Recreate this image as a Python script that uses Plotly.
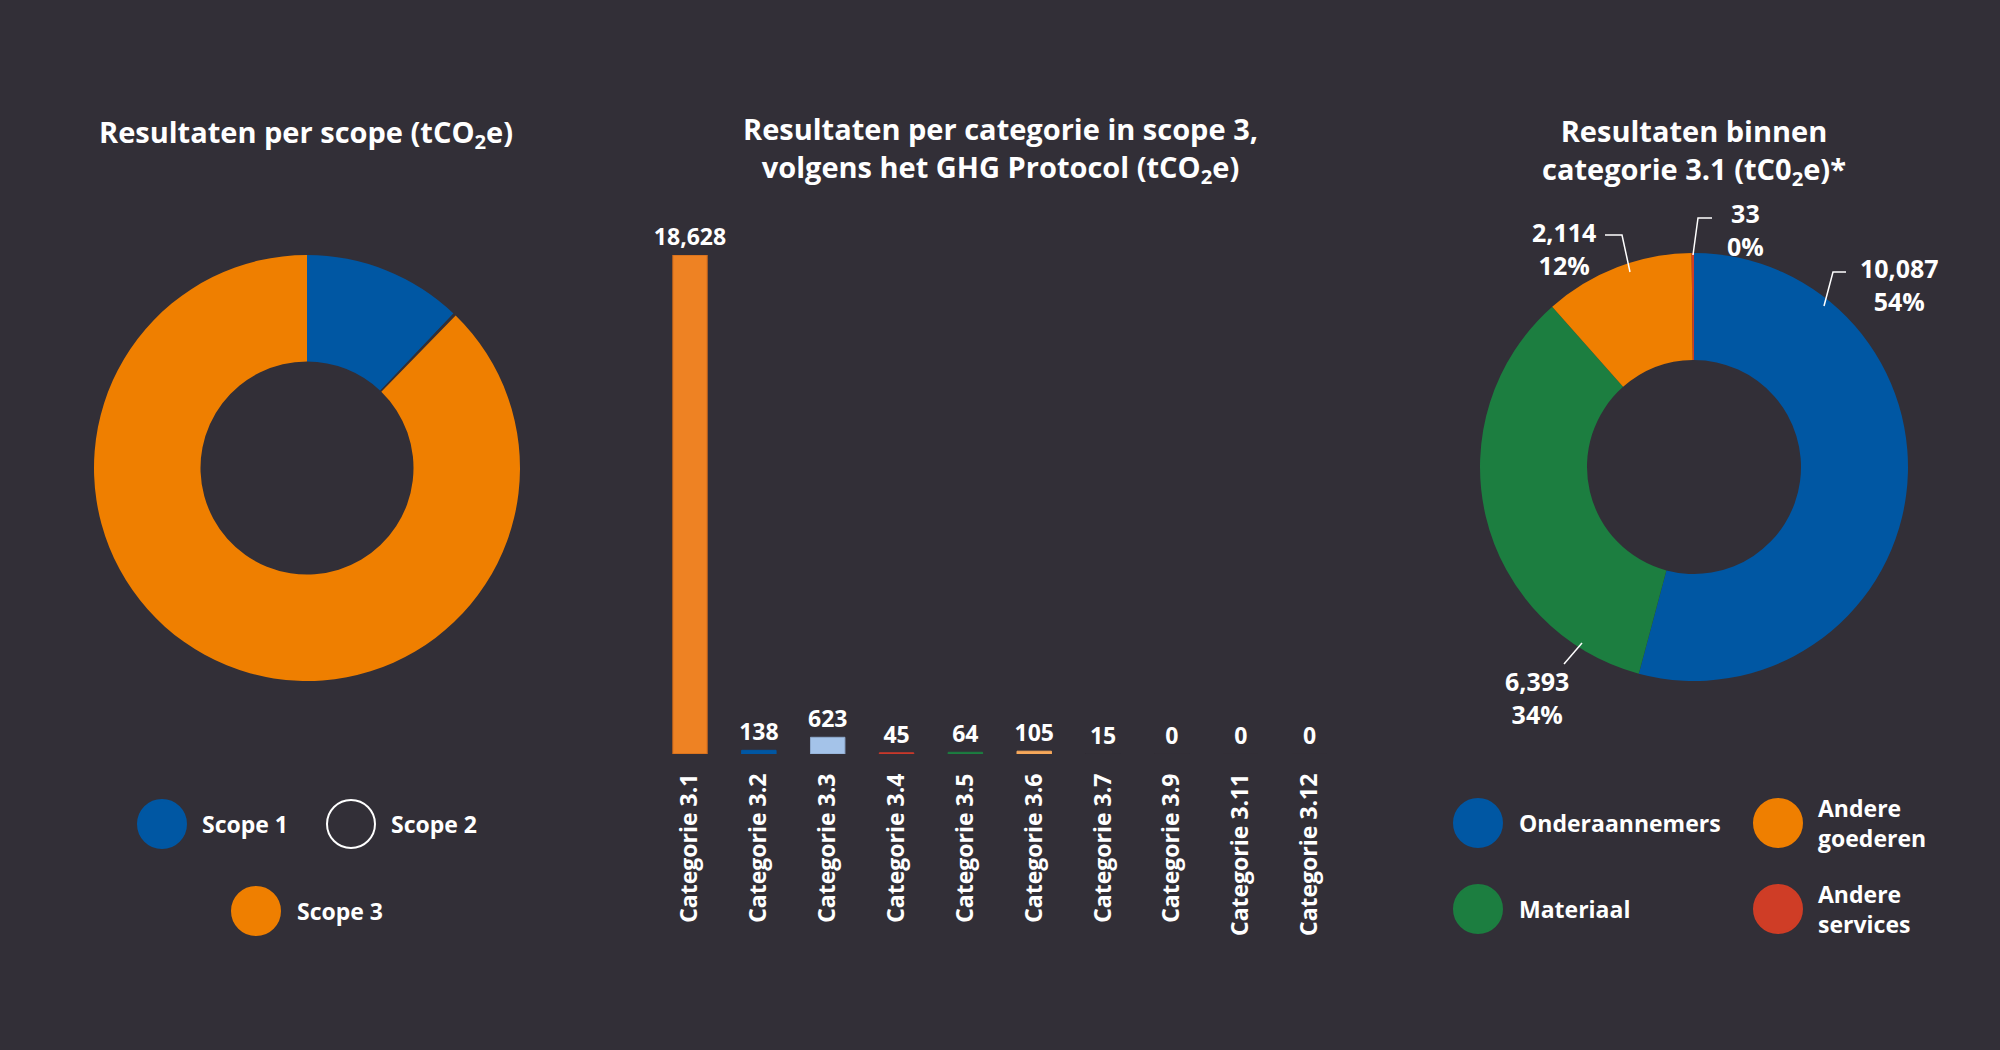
import plotly.graph_objects as go

# ---------------- data ----------------
scope_labels = ["Scope 1", "Scope 2", "Scope 3"]
scope_values = [2700, 50, 19618]

cat_labels = ["Categorie 3.1", "Categorie 3.2", "Categorie 3.3", "Categorie 3.4", "Categorie 3.5",
              "Categorie 3.6", "Categorie 3.7", "Categorie 3.9", "Categorie 3.11", "Categorie 3.12"]
cat_values = [18628, 138, 623, 45, 64, 105, 15, 0, 0, 0]

sub_labels = ["Onderaannemers", "Materiaal", "Andere goederen", "Andere services"]
sub_values = [10087, 6393, 2114, 33]
sub_percent = [54, 34, 12, 0]

# ---------------- style ----------------
W, H = 2000, 1050
BG = "#322F37"
FONT = "Open Sans"
scope_colors = ["#0057A3", BG, "#EF7F00"]
bar_colors = ["#EE8223", "#0057A3", "#A4C3E9", "#C9392B", "#1C7E40", "#F7A85B",
              BG, BG, BG, BG]
bar_line_colors = ["#C8661B", "#0057A3", "#8EA9CC", "#C9392B", "#1C7E40", "#F7A85B",
                   BG, BG, BG, BG]
sub_colors = ["#0057A3", "#1C7E40", "#EF7F00", "#CF3D26"]


def px(x, y):
    return x / W, 1 - y / H


def box(cx, cy, r):
    return [(cx - r) / W, (cx + r) / W], [1 - (cy + r) / H, 1 - (cy - r) / H]


fig = go.Figure()

# left donut
dx, dy = box(307, 468, 213)
fig.add_trace(go.Pie(labels=scope_labels, values=scope_values, hole=0.5, sort=False,
                     direction="clockwise", rotation=0,
                     marker=dict(colors=scope_colors, line=dict(width=0)),
                     textinfo="none", showlegend=False, domain=dict(x=dx, y=dy)))

# right donut
dx, dy = box(1694, 467, 214)
fig.add_trace(go.Pie(labels=sub_labels, values=sub_values, hole=0.5, sort=False,
                     direction="clockwise", rotation=0,
                     marker=dict(colors=sub_colors, line=dict(width=0)),
                     textinfo="none", showlegend=False, domain=dict(x=dx, y=dy)))

# bars
fig.add_trace(go.Bar(x=cat_labels, y=cat_values,
                     marker=dict(color=bar_colors, line=dict(color=bar_line_colors, width=1)),
                     text=[f"<b>{v:,}</b>" for v in cat_values], textposition="outside",
                     constraintext="none", cliponaxis=False,
                     textfont=dict(family=FONT, size=23, color="white"),
                     showlegend=False))

annotations = []
shapes = []

# titles
titles = [
    (306, 133, "<b>Resultaten per scope (tCO<sub>2</sub>e)</b>"),
    (1000, 150, "<b>Resultaten per categorie in scope 3,<br>volgens het GHG Protocol (tCO<sub>2</sub>e)</b>"),
    (1694, 151, "<b>Resultaten binnen<br>categorie 3.1 (tC0<sub>2</sub>e)*</b>"),
]
for x, y, t in titles:
    ax, ay = px(x, y)
    annotations.append(dict(x=ax, y=ay, xref="paper", yref="paper", text=t, showarrow=False,
                            xanchor="center", yanchor="middle",
                            font=dict(family=FONT, size=29, color="white")))

# right donut labels with leader lines
label_pos = [(1899, 285), (1537, 697), (1564, 249), (1745, 229)]
leader_paths = [
    [(1824, 306), (1833, 272), (1846, 272)],
    [(1582, 643), (1564, 664)],
    [(1630, 272), (1622, 235), (1605, 235)],
    [(1693, 255), (1698, 218), (1712, 218)],
]
for v, p, (x, y), path in zip(sub_values, sub_percent, label_pos, leader_paths):
    ax, ay = px(x, y)
    annotations.append(dict(x=ax, y=ay, xref="paper", yref="paper",
                            text=f"<b>{v:,}<br>{p}%</b>", showarrow=False,
                            xanchor="center", yanchor="middle",
                            font=dict(family=FONT, size=25, color="white")))
    d = ""
    for i, (lx, ly) in enumerate(path):
        qx, qy = px(lx, ly)
        d += ("M" if i == 0 else " L") + f" {qx} {qy}"
    shapes.append(dict(type="path", path=d, xref="paper", yref="paper",
                       line=dict(color="white", width=1.5)))

# legends
def legend_item(cx, cy, color, text, tx, outline=None):
    ax, ay = px(cx, cy)
    shapes.append(dict(type="circle", xref="paper", yref="paper",
                       xsizemode="pixel", ysizemode="pixel", xanchor=ax, yanchor=ay,
                       x0=-24, x1=24, y0=-24, y1=24,
                       fillcolor=color,
                       line=dict(color=outline if outline else color, width=2)))
    bx, by = px(tx, cy)
    annotations.append(dict(x=bx, y=by, xref="paper", yref="paper", text=f"<b>{text}</b>",
                            showarrow=False, xanchor="left", yanchor="middle", align="left",
                            font=dict(family=FONT, size=23, color="white")))

scope_leg_pos = [(162, 824, 200), (351, 824, 389), (256, 911, 295)]
for lab, col, (cx, cy, tx) in zip(scope_labels, scope_colors, scope_leg_pos):
    legend_item(cx, cy, col, lab, tx, outline="white" if col == BG else None)

sub_leg_text = ["Onderaannemers", "Materiaal", "Andere<br>goederen", "Andere<br>services"]
sub_leg_pos = [(1478, 823, 1517), (1478, 909, 1517), (1778, 823, 1816), (1778, 909, 1816)]
for lab, col, (cx, cy, tx) in zip(sub_leg_text, sub_colors, sub_leg_pos):
    legend_item(cx, cy, col, lab, tx)

fig.update_layout(
    width=W, height=H,
    margin=dict(l=0, r=0, t=0, b=0),
    paper_bgcolor=BG, plot_bgcolor=BG,
    font=dict(family=FONT, color="white"),
    bargap=0.5,
    xaxis=dict(domain=[655.6 / W, 1344 / W], showgrid=False, zeroline=False, showline=False,
               tickangle=-90, ticks="", ticklabelstandoff=14,
               tickfont=dict(family=FONT, size=23, color="white"),
               tickprefix="<b>", ticksuffix="</b>", fixedrange=True),
    yaxis=dict(domain=[1 - 754 / H, 1 - 255 / H], range=[0, max(cat_values)], visible=False,
               fixedrange=True),
    annotations=annotations,
    shapes=shapes,
)

fig.write_html("out.html", config={"displayModeBar": False},
               post_script="document.body.style.margin='0';document.body.style.background='%s';" % BG)
